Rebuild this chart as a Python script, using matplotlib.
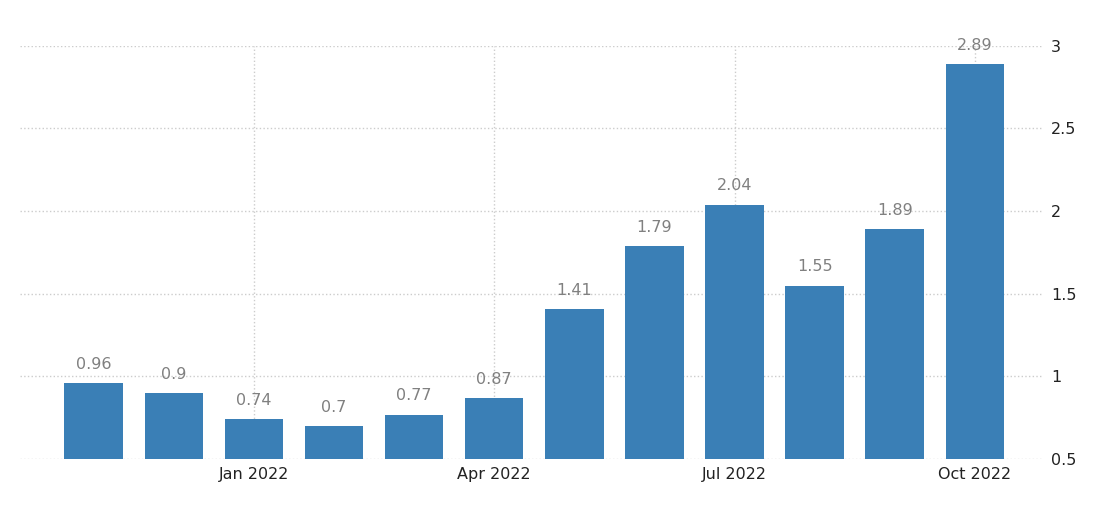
import matplotlib.pyplot as plt

months = ['Nov 2021', 'Dec 2021', 'Jan 2022', 'Feb 2022', 'Mar 2022', 'Apr 2022',
          'May 2022', 'Jun 2022', 'Jul 2022', 'Aug 2022', 'Sep 2022', 'Oct 2022']
values = [0.96, 0.9, 0.74, 0.7, 0.77, 0.87, 1.41, 1.79, 2.04, 1.55, 1.89, 2.89]
tick_labels = ['Jan 2022', 'Apr 2022', 'Jul 2022', 'Oct 2022']
y_ticks = [0.5, 1, 1.5, 2, 2.5, 3]

fig = plt.figure(figsize=(11.13, 5.2), dpi=100)
ax = fig.add_axes([0.018, 0.117, 0.919, 0.795])

x = list(range(len(months)))
ax.bar(x, [v - 0.5 for v in values], bottom=0.5, width=0.73, color='#3a7fb6', zorder=3)

for xi, v in zip(x, values):
    ax.annotate(f'{v:g}', (xi, v), xytext=(0, 8), textcoords='offset points',
                ha='center', va='bottom', fontsize=11.5, color='#808080')

ax.set_xlim(-0.92, 11.85)
ax.set_ylim(0.5, 3)

tick_pos = [months.index(t) for t in tick_labels]
ax.set_xticks(tick_pos)
ax.set_xticklabels(tick_labels)
ax.set_yticks(y_ticks)
ax.set_yticklabels([f'{t:g}' for t in y_ticks])
ax.yaxis.tick_right()

ax.tick_params(axis='both', length=0, labelsize=11.5, labelcolor='#222222')
ax.tick_params(axis='x', pad=6)
ax.tick_params(axis='y', pad=6)

ax.grid(True, linestyle=':', color='#cccccc', linewidth=1, zorder=0)
for s in ax.spines.values():
    s.set_visible(False)

plt.savefig('out.png', dpi=100)
